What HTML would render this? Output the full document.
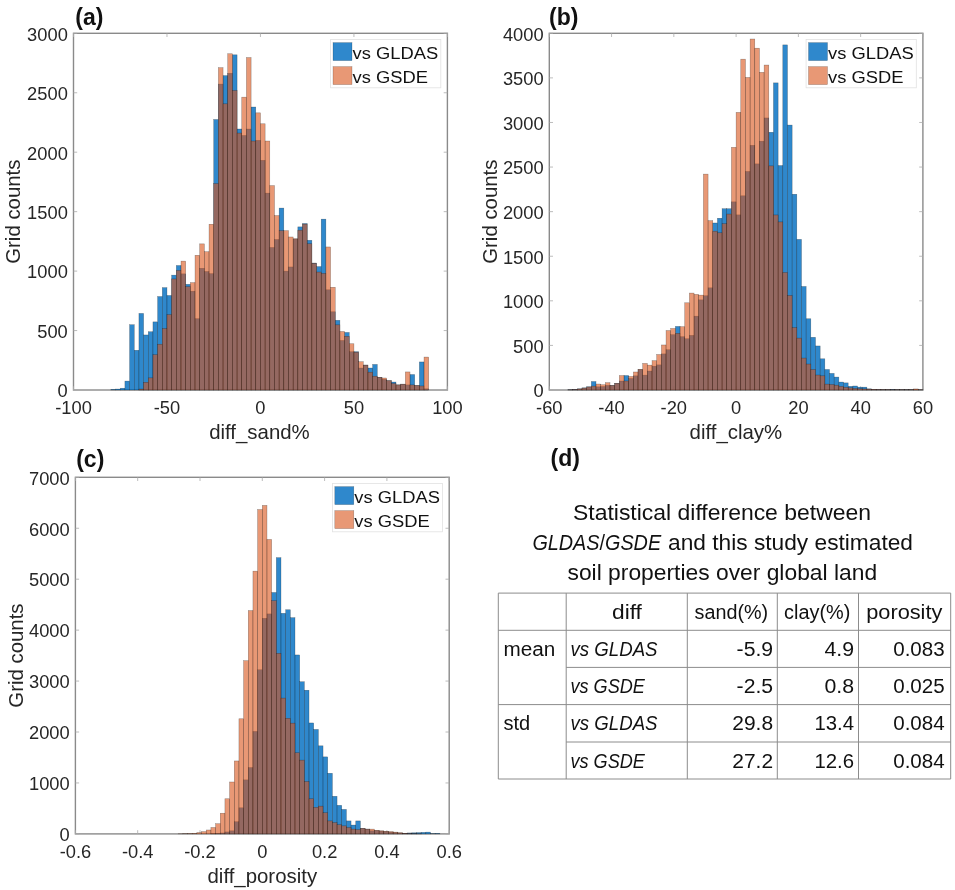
<!DOCTYPE html>
<html lang="en"><head><meta charset="utf-8"><title>Figure: soil property differences</title>
<style>
html,body{margin:0;padding:0;background:#fff}
body{width:955px;height:890px;overflow:hidden}
svg{display:block}
text{font-family:"Liberation Sans",Arial,Helvetica,sans-serif;fill:#262626}
.t{font-size:17.6px}
.xt{text-anchor:middle}
.yt{text-anchor:end}
.l{font-size:20.4px;text-anchor:middle}
.tag{font-size:23px;font-weight:bold;fill:#111}
.lg{font-size:17px;fill:#111}
.ax{fill:none;stroke:#8a8a8a;stroke-width:1.4}
.tk{fill:none;stroke:#ababab;stroke-width:0.8}
.bars rect{stroke:#000;stroke-opacity:0.4;stroke-width:0.5}
.bars.b rect{fill:#016EC1;fill-opacity:0.82}
.bars.o rect{fill:#D95319;fill-opacity:0.6}
.lgbox{fill:#fff;stroke:#e2e2e2;stroke-width:0.8}
.lgb{fill:#016EC1;fill-opacity:0.82;stroke:#000;stroke-opacity:.35;stroke-width:.5}
.lgo{fill:#D95319;fill-opacity:0.6;stroke:#000;stroke-opacity:.35;stroke-width:.5}
.tb{fill:none;stroke:#8c8c8c;stroke-width:1}
.tt{font-size:21.6px;fill:#111}
.tc{font-size:19.5px;fill:#111}
.r{text-anchor:end}
.i{font-style:italic}
</style></head><body>
<svg width="955" height="890" viewBox="0 0 955 890">
<rect width="955" height="890" fill="#fff"/>
<g class="panel" id="panel-a">
<rect class="ax" x="73.5" y="33.3" width="373.9" height="356.7"/>
<path class="tk" d="M73.5 390v-3.7M73.5 33.3v3.7M166.97 390v-3.7M166.97 33.3v3.7M260.45 390v-3.7M260.45 33.3v3.7M353.93 390v-3.7M353.93 33.3v3.7M447.4 390v-3.7M447.4 33.3v3.7M73.5 390h3.7M447.4 390h-3.7M73.5 330.55h3.7M447.4 330.55h-3.7M73.5 271.1h3.7M447.4 271.1h-3.7M73.5 211.65h3.7M447.4 211.65h-3.7M73.5 152.2h3.7M447.4 152.2h-3.7M73.5 92.75h3.7M447.4 92.75h-3.7M73.5 33.3h3.7M447.4 33.3h-3.7"/>
<g class="bars b">
<rect x="110.89" y="389.41" width="4.67" height="0.59"/>
<rect x="115.56" y="389.05" width="4.67" height="0.95"/>
<rect x="120.24" y="388.22" width="4.67" height="1.78"/>
<rect x="124.91" y="381.08" width="4.67" height="8.92"/>
<rect x="129.59" y="324.72" width="4.67" height="65.28"/>
<rect x="134.26" y="350.29" width="4.67" height="39.71"/>
<rect x="138.93" y="313.43" width="4.67" height="76.57"/>
<rect x="143.61" y="334.95" width="4.67" height="55.05"/>
<rect x="148.28" y="331.74" width="4.67" height="58.26"/>
<rect x="152.95" y="321.87" width="4.67" height="68.13"/>
<rect x="157.63" y="296.54" width="4.67" height="93.46"/>
<rect x="162.3" y="287.63" width="4.67" height="102.37"/>
<rect x="166.97" y="295.47" width="4.67" height="94.53"/>
<rect x="171.65" y="275.14" width="4.67" height="114.86"/>
<rect x="176.32" y="265.51" width="4.67" height="124.49"/>
<rect x="181" y="273.83" width="4.67" height="116.17"/>
<rect x="185.67" y="284.3" width="4.67" height="105.7"/>
<rect x="190.34" y="291.19" width="4.67" height="98.81"/>
<rect x="195.02" y="318.66" width="4.67" height="71.34"/>
<rect x="199.69" y="268.25" width="4.67" height="121.75"/>
<rect x="204.37" y="271.46" width="4.67" height="118.54"/>
<rect x="209.04" y="273.6" width="4.67" height="116.4"/>
<rect x="213.71" y="119.5" width="4.67" height="270.5"/>
<rect x="218.39" y="84.07" width="4.67" height="305.93"/>
<rect x="223.06" y="75.63" width="4.67" height="314.37"/>
<rect x="227.73" y="73.25" width="4.67" height="316.75"/>
<rect x="232.41" y="54.82" width="4.67" height="335.18"/>
<rect x="237.08" y="129.01" width="4.67" height="260.99"/>
<rect x="241.75" y="135.44" width="4.67" height="254.56"/>
<rect x="246.43" y="129.01" width="4.67" height="260.99"/>
<rect x="251.1" y="107.02" width="4.67" height="282.98"/>
<rect x="255.78" y="140.31" width="4.67" height="249.69"/>
<rect x="260.45" y="160.29" width="4.67" height="229.71"/>
<rect x="265.12" y="193.1" width="4.67" height="196.9"/>
<rect x="269.8" y="247.44" width="4.67" height="142.56"/>
<rect x="274.47" y="239.47" width="4.67" height="150.53"/>
<rect x="279.14" y="208.08" width="4.67" height="181.92"/>
<rect x="283.82" y="271.1" width="4.67" height="118.9"/>
<rect x="288.49" y="266.94" width="4.67" height="123.06"/>
<rect x="293.17" y="239" width="4.67" height="151"/>
<rect x="297.84" y="226.87" width="4.67" height="163.13"/>
<rect x="302.51" y="223.54" width="4.67" height="166.46"/>
<rect x="307.19" y="240.3" width="4.67" height="149.7"/>
<rect x="311.86" y="263.01" width="4.67" height="126.99"/>
<rect x="316.53" y="266.58" width="4.67" height="123.42"/>
<rect x="321.21" y="219.14" width="4.67" height="170.86"/>
<rect x="325.88" y="289.77" width="4.67" height="100.23"/>
<rect x="330.56" y="311.76" width="4.67" height="78.24"/>
<rect x="335.23" y="320.32" width="4.67" height="69.68"/>
<rect x="339.9" y="340.42" width="4.67" height="49.58"/>
<rect x="344.58" y="332.45" width="4.67" height="57.55"/>
<rect x="349.25" y="351.71" width="4.67" height="38.29"/>
<rect x="353.93" y="351.71" width="4.67" height="38.29"/>
<rect x="358.6" y="368" width="4.67" height="22"/>
<rect x="363.27" y="365.03" width="4.67" height="24.97"/>
<rect x="367.95" y="368" width="4.67" height="22"/>
<rect x="372.62" y="364.44" width="4.67" height="25.56"/>
<rect x="377.29" y="377.28" width="4.67" height="12.72"/>
<rect x="381.97" y="379.3" width="4.67" height="10.7"/>
<rect x="386.64" y="380.73" width="4.67" height="9.27"/>
<rect x="391.31" y="382.03" width="4.67" height="7.97"/>
<rect x="395.99" y="384.89" width="4.67" height="5.11"/>
<rect x="400.66" y="384.17" width="4.67" height="5.83"/>
<rect x="405.34" y="384.89" width="4.67" height="5.11"/>
<rect x="410.01" y="374.54" width="4.67" height="15.46"/>
<rect x="414.68" y="385.48" width="4.67" height="4.52"/>
<rect x="419.36" y="361.94" width="4.67" height="28.06"/>
<rect x="424.03" y="388.81" width="4.67" height="1.19"/>
</g>
<g class="bars o">
<rect x="138.93" y="389.05" width="4.67" height="0.95"/>
<rect x="143.61" y="382.27" width="4.67" height="7.73"/>
<rect x="148.28" y="377.87" width="4.67" height="12.13"/>
<rect x="152.95" y="354.69" width="4.67" height="35.31"/>
<rect x="157.63" y="344.22" width="4.67" height="45.78"/>
<rect x="162.3" y="328.53" width="4.67" height="61.47"/>
<rect x="166.97" y="314.62" width="4.67" height="75.38"/>
<rect x="171.65" y="278.95" width="4.67" height="111.05"/>
<rect x="176.32" y="270.39" width="4.67" height="119.61"/>
<rect x="181" y="261.11" width="4.67" height="128.89"/>
<rect x="185.67" y="286.68" width="4.67" height="103.32"/>
<rect x="190.34" y="282.63" width="4.67" height="107.37"/>
<rect x="195.02" y="255.29" width="4.67" height="134.71"/>
<rect x="199.69" y="243.87" width="4.67" height="146.13"/>
<rect x="204.37" y="251.72" width="4.67" height="138.28"/>
<rect x="209.04" y="224.25" width="4.67" height="165.75"/>
<rect x="213.71" y="183.59" width="4.67" height="206.41"/>
<rect x="218.39" y="67.66" width="4.67" height="322.34"/>
<rect x="223.06" y="103.81" width="4.67" height="286.19"/>
<rect x="227.73" y="53.75" width="4.67" height="336.25"/>
<rect x="232.41" y="90.49" width="4.67" height="299.51"/>
<rect x="237.08" y="133.06" width="4.67" height="256.94"/>
<rect x="241.75" y="97.15" width="4.67" height="292.85"/>
<rect x="246.43" y="57.56" width="4.67" height="332.44"/>
<rect x="251.1" y="141.02" width="4.67" height="248.98"/>
<rect x="255.78" y="112.84" width="4.67" height="277.16"/>
<rect x="260.45" y="123.78" width="4.67" height="266.22"/>
<rect x="265.12" y="141.02" width="4.67" height="248.98"/>
<rect x="269.8" y="185.61" width="4.67" height="204.39"/>
<rect x="274.47" y="215.57" width="4.67" height="174.43"/>
<rect x="279.14" y="230.67" width="4.67" height="159.33"/>
<rect x="283.82" y="230.67" width="4.67" height="159.33"/>
<rect x="288.49" y="236.98" width="4.67" height="153.02"/>
<rect x="293.17" y="238.76" width="4.67" height="151.24"/>
<rect x="297.84" y="230.2" width="4.67" height="159.8"/>
<rect x="302.51" y="224.13" width="4.67" height="165.87"/>
<rect x="307.19" y="243.75" width="4.67" height="146.25"/>
<rect x="311.86" y="263.25" width="4.67" height="126.75"/>
<rect x="316.53" y="272.05" width="4.67" height="117.95"/>
<rect x="321.21" y="273.36" width="4.67" height="116.64"/>
<rect x="325.88" y="246.96" width="4.67" height="143.04"/>
<rect x="330.56" y="287.27" width="4.67" height="102.73"/>
<rect x="335.23" y="324.84" width="4.67" height="65.16"/>
<rect x="339.9" y="331.5" width="4.67" height="58.5"/>
<rect x="344.58" y="336.26" width="4.67" height="53.74"/>
<rect x="349.25" y="343.75" width="4.67" height="46.25"/>
<rect x="353.93" y="352.19" width="4.67" height="37.81"/>
<rect x="358.6" y="361.7" width="4.67" height="28.3"/>
<rect x="363.27" y="365.15" width="4.67" height="24.85"/>
<rect x="367.95" y="372.17" width="4.67" height="17.83"/>
<rect x="372.62" y="376.21" width="4.67" height="13.79"/>
<rect x="377.29" y="377.28" width="4.67" height="12.72"/>
<rect x="381.97" y="377.99" width="4.67" height="12.01"/>
<rect x="386.64" y="380.61" width="4.67" height="9.39"/>
<rect x="391.31" y="383.46" width="4.67" height="6.54"/>
<rect x="395.99" y="384.89" width="4.67" height="5.11"/>
<rect x="400.66" y="384.17" width="4.67" height="5.83"/>
<rect x="405.34" y="371.93" width="4.67" height="18.07"/>
<rect x="410.01" y="384.89" width="4.67" height="5.11"/>
<rect x="414.68" y="385.48" width="4.67" height="4.52"/>
<rect x="419.36" y="385.96" width="4.67" height="4.04"/>
<rect x="424.03" y="357.06" width="4.67" height="32.94"/>
</g>
<text class="t xt" transform="translate(73.5 414.1) scale(1.04 1)">-100</text>
<text class="t xt" transform="translate(166.97 414.1) scale(1.04 1)">-50</text>
<text class="t xt" transform="translate(260.45 414.1) scale(1.04 1)">0</text>
<text class="t xt" transform="translate(353.93 414.1) scale(1.04 1)">50</text>
<text class="t xt" transform="translate(447.4 414.1) scale(1.04 1)">100</text>
<text class="t yt" transform="translate(67.8 397.3) scale(1.04 1)">0</text>
<text class="t yt" transform="translate(67.8 337.85) scale(1.04 1)">500</text>
<text class="t yt" transform="translate(67.8 278.4) scale(1.04 1)">1000</text>
<text class="t yt" transform="translate(67.8 218.95) scale(1.04 1)">1500</text>
<text class="t yt" transform="translate(67.8 159.5) scale(1.04 1)">2000</text>
<text class="t yt" transform="translate(67.8 100.05) scale(1.04 1)">2500</text>
<text class="t yt" transform="translate(67.8 40.6) scale(1.04 1)">3000</text>
<text class="l xl" transform="translate(259.45 438.7) scale(1.0 1)">diff_sand%</text>
<text class="l yl" transform="translate(20.4 211.65) scale(1.035 1) rotate(-90)">Grid counts</text>
<text class="tag" x="75.3" y="25.2">(a)</text>
<g class="legend">
<rect class="lgbox" x="330.6" y="39.5" width="110.2" height="48.3"/>
<rect class="lgb" x="333" y="42.6" width="19" height="18"/>
<rect class="lgo" x="333" y="66.6" width="19" height="18"/>
<text class="lg" transform="translate(352.5 59.1) scale(1.08 1)">vs GLDAS</text>
<text class="lg" transform="translate(352.5 83.1) scale(1.08 1)">vs GSDE</text>
</g>
</g>
<g class="panel" id="panel-b">
<rect class="ax" x="549.3" y="33.3" width="373.6" height="356.7"/>
<path class="tk" d="M549.3 390v-3.7M549.3 33.3v3.7M611.57 390v-3.7M611.57 33.3v3.7M673.83 390v-3.7M673.83 33.3v3.7M736.1 390v-3.7M736.1 33.3v3.7M798.37 390v-3.7M798.37 33.3v3.7M860.63 390v-3.7M860.63 33.3v3.7M922.9 390v-3.7M922.9 33.3v3.7M549.3 390h3.7M922.9 390h-3.7M549.3 345.41h3.7M922.9 345.41h-3.7M549.3 300.82h3.7M922.9 300.82h-3.7M549.3 256.24h3.7M922.9 256.24h-3.7M549.3 211.65h3.7M922.9 211.65h-3.7M549.3 167.06h3.7M922.9 167.06h-3.7M549.3 122.48h3.7M922.9 122.48h-3.7M549.3 77.89h3.7M922.9 77.89h-3.7M549.3 33.3h3.7M922.9 33.3h-3.7"/>
<g class="bars b">
<rect x="567.98" y="389.73" width="4.67" height="0.27"/>
<rect x="572.65" y="389.29" width="4.67" height="0.71"/>
<rect x="577.32" y="388.84" width="4.67" height="1.16"/>
<rect x="581.99" y="387.86" width="4.67" height="2.14"/>
<rect x="586.66" y="386.79" width="4.67" height="3.21"/>
<rect x="591.33" y="381.53" width="4.67" height="8.47"/>
<rect x="596" y="386.79" width="4.67" height="3.21"/>
<rect x="600.67" y="386.52" width="4.67" height="3.48"/>
<rect x="605.34" y="385.36" width="4.67" height="4.64"/>
<rect x="610.01" y="385.36" width="4.67" height="4.64"/>
<rect x="614.68" y="383.31" width="4.67" height="6.69"/>
<rect x="619.35" y="380.99" width="4.67" height="9.01"/>
<rect x="624.02" y="375.55" width="4.67" height="14.45"/>
<rect x="628.69" y="378.5" width="4.67" height="11.5"/>
<rect x="633.36" y="375.82" width="4.67" height="14.18"/>
<rect x="638.03" y="369.58" width="4.67" height="20.42"/>
<rect x="642.7" y="375.11" width="4.67" height="14.89"/>
<rect x="647.37" y="371.01" width="4.67" height="18.99"/>
<rect x="652.04" y="366.19" width="4.67" height="23.81"/>
<rect x="656.71" y="364.85" width="4.67" height="25.15"/>
<rect x="661.38" y="353.88" width="4.67" height="36.12"/>
<rect x="666.05" y="349.69" width="4.67" height="40.31"/>
<rect x="670.72" y="334.62" width="4.67" height="55.38"/>
<rect x="675.39" y="326.42" width="4.67" height="63.58"/>
<rect x="680.06" y="336.67" width="4.67" height="53.33"/>
<rect x="684.73" y="338.72" width="4.67" height="51.28"/>
<rect x="689.4" y="335.34" width="4.67" height="54.66"/>
<rect x="694.07" y="316.16" width="4.67" height="73.84"/>
<rect x="698.74" y="299.84" width="4.67" height="90.16"/>
<rect x="703.41" y="295.74" width="4.67" height="94.26"/>
<rect x="708.08" y="287.81" width="4.67" height="102.19"/>
<rect x="712.75" y="222.98" width="4.67" height="167.02"/>
<rect x="717.42" y="218.25" width="4.67" height="171.75"/>
<rect x="722.09" y="208.71" width="4.67" height="181.29"/>
<rect x="726.76" y="208.71" width="4.67" height="181.29"/>
<rect x="731.43" y="201.84" width="4.67" height="188.16"/>
<rect x="736.1" y="214.86" width="4.67" height="175.14"/>
<rect x="740.77" y="195.78" width="4.67" height="194.22"/>
<rect x="745.44" y="171.43" width="4.67" height="218.57"/>
<rect x="750.11" y="145.3" width="4.67" height="244.7"/>
<rect x="754.78" y="163.85" width="4.67" height="226.15"/>
<rect x="759.45" y="141.2" width="4.67" height="248.8"/>
<rect x="764.12" y="117.93" width="4.67" height="272.07"/>
<rect x="768.79" y="132.28" width="4.67" height="257.72"/>
<rect x="773.46" y="82.88" width="4.67" height="307.12"/>
<rect x="778.13" y="165.55" width="4.67" height="224.45"/>
<rect x="782.8" y="44.89" width="4.67" height="345.11"/>
<rect x="787.47" y="125.06" width="4.67" height="264.94"/>
<rect x="792.14" y="194.26" width="4.67" height="195.74"/>
<rect x="796.81" y="239.38" width="4.67" height="150.62"/>
<rect x="801.48" y="286.47" width="4.67" height="103.53"/>
<rect x="806.15" y="318.75" width="4.67" height="71.25"/>
<rect x="810.82" y="337.3" width="4.67" height="52.7"/>
<rect x="815.49" y="345.95" width="4.67" height="44.05"/>
<rect x="820.16" y="358.79" width="4.67" height="31.21"/>
<rect x="824.83" y="369.49" width="4.67" height="20.51"/>
<rect x="829.5" y="373.41" width="4.67" height="16.59"/>
<rect x="834.17" y="377.07" width="4.67" height="12.93"/>
<rect x="838.84" y="382.06" width="4.67" height="7.94"/>
<rect x="843.51" y="382.87" width="4.67" height="7.13"/>
<rect x="848.18" y="386.34" width="4.67" height="3.66"/>
<rect x="852.85" y="385.99" width="4.67" height="4.01"/>
<rect x="857.52" y="387.15" width="4.67" height="2.85"/>
<rect x="862.19" y="387.15" width="4.67" height="2.85"/>
<rect x="866.86" y="388.84" width="4.67" height="1.16"/>
<rect x="871.53" y="389.29" width="4.67" height="0.71"/>
<rect x="876.2" y="389.46" width="4.67" height="0.54"/>
<rect x="880.87" y="389.55" width="4.67" height="0.45"/>
<rect x="885.54" y="389.55" width="4.67" height="0.45"/>
<rect x="890.21" y="389.29" width="4.67" height="0.71"/>
<rect x="894.88" y="389.64" width="4.67" height="0.36"/>
<rect x="899.55" y="389.64" width="4.67" height="0.36"/>
<rect x="904.22" y="389.73" width="4.67" height="0.27"/>
<rect x="908.89" y="389.73" width="4.67" height="0.27"/>
<rect x="913.56" y="389.73" width="4.67" height="0.27"/>
<rect x="918.23" y="389.82" width="4.67" height="0.18"/>
</g>
<g class="bars o">
<rect x="567.98" y="389.82" width="4.67" height="0.18"/>
<rect x="572.65" y="389.46" width="4.67" height="0.54"/>
<rect x="577.32" y="388.93" width="4.67" height="1.07"/>
<rect x="581.99" y="388.04" width="4.67" height="1.96"/>
<rect x="586.66" y="386.97" width="4.67" height="3.03"/>
<rect x="591.33" y="386.08" width="4.67" height="3.92"/>
<rect x="596" y="384.03" width="4.67" height="5.97"/>
<rect x="600.67" y="384.74" width="4.67" height="5.26"/>
<rect x="605.34" y="382.69" width="4.67" height="7.31"/>
<rect x="610.01" y="385.36" width="4.67" height="4.64"/>
<rect x="614.68" y="383.31" width="4.67" height="6.69"/>
<rect x="619.35" y="375.55" width="4.67" height="14.45"/>
<rect x="624.02" y="380.99" width="4.67" height="9.01"/>
<rect x="628.69" y="376.45" width="4.67" height="13.55"/>
<rect x="633.36" y="371.99" width="4.67" height="18.01"/>
<rect x="638.03" y="369.31" width="4.67" height="20.69"/>
<rect x="642.7" y="363.43" width="4.67" height="26.57"/>
<rect x="647.37" y="365.12" width="4.67" height="24.88"/>
<rect x="652.04" y="360.66" width="4.67" height="29.34"/>
<rect x="656.71" y="354.51" width="4.67" height="35.49"/>
<rect x="661.38" y="344.97" width="4.67" height="45.03"/>
<rect x="666.05" y="330.52" width="4.67" height="59.48"/>
<rect x="670.72" y="328.47" width="4.67" height="61.53"/>
<rect x="675.39" y="333.28" width="4.67" height="56.72"/>
<rect x="680.06" y="326.69" width="4.67" height="63.31"/>
<rect x="684.73" y="302.79" width="4.67" height="87.21"/>
<rect x="689.4" y="293.07" width="4.67" height="96.93"/>
<rect x="694.07" y="294.4" width="4.67" height="95.6"/>
<rect x="698.74" y="295.12" width="4.67" height="94.88"/>
<rect x="703.41" y="174.11" width="4.67" height="215.89"/>
<rect x="708.08" y="220.66" width="4.67" height="169.34"/>
<rect x="712.75" y="231.18" width="4.67" height="158.82"/>
<rect x="717.42" y="232.78" width="4.67" height="157.22"/>
<rect x="722.09" y="223.69" width="4.67" height="166.31"/>
<rect x="726.76" y="214.06" width="4.67" height="175.94"/>
<rect x="731.43" y="147.35" width="4.67" height="242.65"/>
<rect x="736.1" y="112.4" width="4.67" height="277.6"/>
<rect x="740.77" y="59.16" width="4.67" height="330.84"/>
<rect x="745.44" y="77.44" width="4.67" height="312.56"/>
<rect x="750.11" y="39.01" width="4.67" height="350.99"/>
<rect x="754.78" y="48.19" width="4.67" height="341.81"/>
<rect x="759.45" y="72.36" width="4.67" height="317.64"/>
<rect x="764.12" y="65.05" width="4.67" height="324.95"/>
<rect x="768.79" y="165.9" width="4.67" height="224.1"/>
<rect x="773.46" y="214.95" width="4.67" height="175.05"/>
<rect x="778.13" y="221.91" width="4.67" height="168.09"/>
<rect x="782.8" y="272.47" width="4.67" height="117.53"/>
<rect x="787.47" y="295.47" width="4.67" height="94.53"/>
<rect x="792.14" y="327.58" width="4.67" height="62.42"/>
<rect x="796.81" y="338.1" width="4.67" height="51.9"/>
<rect x="801.48" y="358.08" width="4.67" height="31.92"/>
<rect x="806.15" y="364.05" width="4.67" height="25.95"/>
<rect x="810.82" y="369.49" width="4.67" height="20.51"/>
<rect x="815.49" y="375.02" width="4.67" height="14.98"/>
<rect x="820.16" y="375.82" width="4.67" height="14.18"/>
<rect x="824.83" y="384.11" width="4.67" height="5.89"/>
<rect x="829.5" y="384.47" width="4.67" height="5.53"/>
<rect x="834.17" y="385.18" width="4.67" height="4.82"/>
<rect x="838.84" y="386.34" width="4.67" height="3.66"/>
<rect x="843.51" y="387.24" width="4.67" height="2.76"/>
<rect x="848.18" y="387.86" width="4.67" height="2.14"/>
<rect x="852.85" y="388.39" width="4.67" height="1.61"/>
<rect x="857.52" y="388.75" width="4.67" height="1.25"/>
<rect x="862.19" y="388.93" width="4.67" height="1.07"/>
<rect x="866.86" y="389.11" width="4.67" height="0.89"/>
<rect x="871.53" y="389.29" width="4.67" height="0.71"/>
<rect x="876.2" y="389.46" width="4.67" height="0.54"/>
<rect x="880.87" y="389.55" width="4.67" height="0.45"/>
<rect x="885.54" y="389.55" width="4.67" height="0.45"/>
<rect x="890.21" y="389.64" width="4.67" height="0.36"/>
<rect x="894.88" y="389.64" width="4.67" height="0.36"/>
<rect x="899.55" y="389.64" width="4.67" height="0.36"/>
<rect x="904.22" y="389.73" width="4.67" height="0.27"/>
<rect x="908.89" y="389.73" width="4.67" height="0.27"/>
<rect x="913.56" y="388.93" width="4.67" height="1.07"/>
<rect x="918.23" y="389.73" width="4.67" height="0.27"/>
</g>
<text class="t xt" transform="translate(549.3 414.1) scale(1.04 1)">-60</text>
<text class="t xt" transform="translate(611.57 414.1) scale(1.04 1)">-40</text>
<text class="t xt" transform="translate(673.83 414.1) scale(1.04 1)">-20</text>
<text class="t xt" transform="translate(736.1 414.1) scale(1.04 1)">0</text>
<text class="t xt" transform="translate(798.37 414.1) scale(1.04 1)">20</text>
<text class="t xt" transform="translate(860.63 414.1) scale(1.04 1)">40</text>
<text class="t xt" transform="translate(922.9 414.1) scale(1.04 1)">60</text>
<text class="t yt" transform="translate(543.6 397.3) scale(1.04 1)">0</text>
<text class="t yt" transform="translate(543.6 352.71) scale(1.04 1)">500</text>
<text class="t yt" transform="translate(543.6 308.12) scale(1.04 1)">1000</text>
<text class="t yt" transform="translate(543.6 263.54) scale(1.04 1)">1500</text>
<text class="t yt" transform="translate(543.6 218.95) scale(1.04 1)">2000</text>
<text class="t yt" transform="translate(543.6 174.36) scale(1.04 1)">2500</text>
<text class="t yt" transform="translate(543.6 129.78) scale(1.04 1)">3000</text>
<text class="t yt" transform="translate(543.6 85.19) scale(1.04 1)">3500</text>
<text class="t yt" transform="translate(543.6 40.6) scale(1.04 1)">4000</text>
<text class="l xl" transform="translate(735.9 438.7) scale(1.0 1)">diff_clay%</text>
<text class="l yl" transform="translate(496.8 211.65) scale(1.035 1) rotate(-90)">Grid counts</text>
<text class="tag" x="549.1" y="25.2">(b)</text>
<g class="legend">
<rect class="lgbox" x="806.1" y="39.5" width="110.2" height="48.3"/>
<rect class="lgb" x="808.5" y="42.6" width="19" height="18"/>
<rect class="lgo" x="808.5" y="66.6" width="19" height="18"/>
<text class="lg" transform="translate(828 59.1) scale(1.08 1)">vs GLDAS</text>
<text class="lg" transform="translate(828 83.1) scale(1.08 1)">vs GSDE</text>
</g>
</g>
<g class="panel" id="panel-c">
<rect class="ax" x="75.4" y="477.3" width="373.8" height="356.6"/>
<path class="tk" d="M75.4 833.9v-3.7M75.4 477.3v3.7M137.7 833.9v-3.7M137.7 477.3v3.7M200 833.9v-3.7M200 477.3v3.7M262.3 833.9v-3.7M262.3 477.3v3.7M324.6 833.9v-3.7M324.6 477.3v3.7M386.9 833.9v-3.7M386.9 477.3v3.7M449.2 833.9v-3.7M449.2 477.3v3.7M75.4 833.9h3.7M449.2 833.9h-3.7M75.4 782.96h3.7M449.2 782.96h-3.7M75.4 732.01h3.7M449.2 732.01h-3.7M75.4 681.07h3.7M449.2 681.07h-3.7M75.4 630.13h3.7M449.2 630.13h-3.7M75.4 579.19h3.7M449.2 579.19h-3.7M75.4 528.24h3.7M449.2 528.24h-3.7M75.4 477.3h3.7M449.2 477.3h-3.7"/>
<g class="bars b">
<rect x="210.9" y="833.65" width="4.67" height="0.25"/>
<rect x="215.57" y="833.24" width="4.67" height="0.66"/>
<rect x="220.25" y="832.93" width="4.67" height="0.97"/>
<rect x="224.92" y="831.91" width="4.67" height="1.99"/>
<rect x="229.59" y="830.79" width="4.67" height="3.11"/>
<rect x="234.27" y="821.72" width="4.67" height="12.18"/>
<rect x="238.94" y="807.77" width="4.67" height="26.13"/>
<rect x="243.61" y="779.85" width="4.67" height="54.05"/>
<rect x="248.28" y="767.52" width="4.67" height="66.38"/>
<rect x="252.95" y="731.4" width="4.67" height="102.5"/>
<rect x="257.63" y="669.76" width="4.67" height="164.14"/>
<rect x="262.3" y="618.31" width="4.67" height="215.59"/>
<rect x="266.97" y="613.88" width="4.67" height="220.02"/>
<rect x="271.64" y="592.48" width="4.67" height="241.42"/>
<rect x="276.32" y="557.64" width="4.67" height="276.26"/>
<rect x="280.99" y="613.32" width="4.67" height="220.58"/>
<rect x="285.66" y="609.75" width="4.67" height="224.15"/>
<rect x="290.33" y="617.65" width="4.67" height="216.25"/>
<rect x="295.01" y="654.94" width="4.67" height="178.96"/>
<rect x="299.68" y="681.73" width="4.67" height="152.17"/>
<rect x="304.35" y="690.24" width="4.67" height="143.66"/>
<rect x="309.02" y="722.95" width="4.67" height="110.95"/>
<rect x="313.7" y="729.42" width="4.67" height="104.48"/>
<rect x="318.37" y="745.82" width="4.67" height="88.08"/>
<rect x="323.04" y="756.87" width="4.67" height="77.03"/>
<rect x="327.71" y="773.28" width="4.67" height="60.62"/>
<rect x="332.39" y="796.3" width="4.67" height="37.6"/>
<rect x="337.06" y="805.32" width="4.67" height="28.58"/>
<rect x="341.73" y="809.4" width="4.67" height="24.5"/>
<rect x="346.4" y="820.91" width="4.67" height="12.99"/>
<rect x="351.08" y="825.04" width="4.67" height="8.86"/>
<rect x="355.75" y="820.91" width="4.67" height="12.99"/>
<rect x="360.42" y="828.3" width="4.67" height="5.6"/>
<rect x="365.1" y="829.11" width="4.67" height="4.79"/>
<rect x="369.77" y="830.79" width="4.67" height="3.11"/>
<rect x="374.44" y="830.59" width="4.67" height="3.31"/>
<rect x="379.11" y="831.1" width="4.67" height="2.8"/>
<rect x="383.78" y="831.61" width="4.67" height="2.29"/>
<rect x="388.46" y="832.12" width="4.67" height="1.78"/>
<rect x="393.13" y="832.63" width="4.67" height="1.27"/>
<rect x="397.8" y="832.98" width="4.67" height="0.92"/>
<rect x="402.47" y="833.24" width="4.67" height="0.66"/>
<rect x="407.15" y="832.93" width="4.67" height="0.97"/>
<rect x="411.82" y="832.78" width="4.67" height="1.12"/>
<rect x="416.49" y="832.58" width="4.67" height="1.32"/>
<rect x="421.16" y="832.37" width="4.67" height="1.53"/>
<rect x="425.84" y="832.12" width="4.67" height="1.78"/>
<rect x="430.51" y="833.59" width="4.67" height="0.31"/>
<rect x="435.18" y="833.39" width="4.67" height="0.51"/>
</g>
<g class="bars o">
<rect x="178.19" y="833.75" width="4.67" height="0.15"/>
<rect x="182.87" y="833.65" width="4.67" height="0.25"/>
<rect x="187.54" y="833.49" width="4.67" height="0.41"/>
<rect x="192.21" y="833.24" width="4.67" height="0.66"/>
<rect x="196.88" y="832.58" width="4.67" height="1.32"/>
<rect x="201.56" y="831.61" width="4.67" height="2.29"/>
<rect x="206.23" y="829.98" width="4.67" height="3.92"/>
<rect x="210.9" y="827.48" width="4.67" height="6.42"/>
<rect x="215.57" y="823.71" width="4.67" height="10.19"/>
<rect x="220.25" y="813.22" width="4.67" height="20.68"/>
<rect x="224.92" y="798.75" width="4.67" height="35.15"/>
<rect x="229.59" y="781.99" width="4.67" height="51.91"/>
<rect x="234.27" y="760.95" width="4.67" height="72.95"/>
<rect x="238.94" y="718.77" width="4.67" height="115.13"/>
<rect x="243.61" y="660.69" width="4.67" height="173.21"/>
<rect x="248.28" y="610.57" width="4.67" height="223.33"/>
<rect x="252.95" y="571.14" width="4.67" height="262.76"/>
<rect x="257.63" y="509.55" width="4.67" height="324.35"/>
<rect x="262.3" y="505.42" width="4.67" height="328.48"/>
<rect x="266.97" y="539.45" width="4.67" height="294.45"/>
<rect x="271.64" y="600.73" width="4.67" height="233.17"/>
<rect x="276.32" y="653.31" width="4.67" height="180.59"/>
<rect x="280.99" y="698.09" width="4.67" height="135.81"/>
<rect x="285.66" y="718.26" width="4.67" height="115.64"/>
<rect x="290.33" y="723.15" width="4.67" height="110.75"/>
<rect x="295.01" y="752.75" width="4.67" height="81.15"/>
<rect x="299.68" y="760.13" width="4.67" height="73.77"/>
<rect x="304.35" y="781.48" width="4.67" height="52.42"/>
<rect x="309.02" y="798.75" width="4.67" height="35.15"/>
<rect x="313.7" y="807.31" width="4.67" height="26.59"/>
<rect x="318.37" y="806.14" width="4.67" height="27.76"/>
<rect x="323.04" y="812.71" width="4.67" height="21.19"/>
<rect x="327.71" y="820.91" width="4.67" height="12.99"/>
<rect x="332.39" y="822.54" width="4.67" height="11.36"/>
<rect x="337.06" y="824.68" width="4.67" height="9.22"/>
<rect x="341.73" y="825.85" width="4.67" height="8.05"/>
<rect x="346.4" y="827.48" width="4.67" height="6.42"/>
<rect x="351.08" y="829.11" width="4.67" height="4.79"/>
<rect x="355.75" y="829.62" width="4.67" height="4.28"/>
<rect x="360.42" y="828.3" width="4.67" height="5.6"/>
<rect x="365.1" y="829.11" width="4.67" height="4.79"/>
<rect x="369.77" y="829.11" width="4.67" height="4.79"/>
<rect x="374.44" y="830.28" width="4.67" height="3.62"/>
<rect x="379.11" y="830.79" width="4.67" height="3.11"/>
<rect x="383.78" y="831.25" width="4.67" height="2.65"/>
<rect x="388.46" y="831.61" width="4.67" height="2.29"/>
<rect x="393.13" y="832.12" width="4.67" height="1.78"/>
<rect x="397.8" y="832.73" width="4.67" height="1.17"/>
<rect x="402.47" y="833.24" width="4.67" height="0.66"/>
<rect x="407.15" y="833.49" width="4.67" height="0.41"/>
<rect x="411.82" y="833.65" width="4.67" height="0.25"/>
<rect x="416.49" y="833.75" width="4.67" height="0.15"/>
</g>
<text class="t xt" transform="translate(75.4 858) scale(1.04 1)">-0.6</text>
<text class="t xt" transform="translate(137.7 858) scale(1.04 1)">-0.4</text>
<text class="t xt" transform="translate(200 858) scale(1.04 1)">-0.2</text>
<text class="t xt" transform="translate(262.3 858) scale(1.04 1)">0</text>
<text class="t xt" transform="translate(324.6 858) scale(1.04 1)">0.2</text>
<text class="t xt" transform="translate(386.9 858) scale(1.04 1)">0.4</text>
<text class="t xt" transform="translate(449.2 858) scale(1.04 1)">0.6</text>
<text class="t yt" transform="translate(69.7 841.2) scale(1.04 1)">0</text>
<text class="t yt" transform="translate(69.7 790.26) scale(1.04 1)">1000</text>
<text class="t yt" transform="translate(69.7 739.31) scale(1.04 1)">2000</text>
<text class="t yt" transform="translate(69.7 688.37) scale(1.04 1)">3000</text>
<text class="t yt" transform="translate(69.7 637.43) scale(1.04 1)">4000</text>
<text class="t yt" transform="translate(69.7 586.49) scale(1.04 1)">5000</text>
<text class="t yt" transform="translate(69.7 535.54) scale(1.04 1)">6000</text>
<text class="t yt" transform="translate(69.7 484.6) scale(1.04 1)">7000</text>
<text class="l xl" transform="translate(262.3 882.6) scale(1.0 1)">diff_porosity</text>
<text class="l yl" transform="translate(22.5 655.6) scale(1.035 1) rotate(-90)">Grid counts</text>
<text class="tag" x="76.2" y="466.5">(c)</text>
<g class="legend">
<rect class="lgbox" x="332.4" y="483.5" width="110.2" height="48.3"/>
<rect class="lgb" x="334.8" y="486.6" width="19" height="18"/>
<rect class="lgo" x="334.8" y="510.6" width="19" height="18"/>
<text class="lg" transform="translate(354.3 503.1) scale(1.08 1)">vs GLDAS</text>
<text class="lg" transform="translate(354.3 527.1) scale(1.08 1)">vs GSDE</text>
</g>
</g>
<g id="panel-d">
<text class="tag" x="550.6" y="465.6">(d)</text>
<text class="tt" x="573" y="520.1" textLength="298" lengthAdjust="spacingAndGlyphs">Statistical difference between</text>
<text class="tt" x="532.4" y="549.8" textLength="128.7" lengthAdjust="spacingAndGlyphs"><tspan class="i">GLDAS</tspan>/<tspan class="i">GSDE</tspan></text>
<text class="tt" x="668" y="549.8" textLength="245" lengthAdjust="spacingAndGlyphs">and this study estimated</text>
<text class="tt" x="567.5" y="579.7" textLength="309.6" lengthAdjust="spacingAndGlyphs">soil properties over global land</text>
<path class="tb" d="M498.3 593.1H950.7V779.0H498.3ZM566.2 593.1V779.0M687.3 593.1V779.0M777.3 593.1V779.0M858.5 593.1V779.0M498.3 630.3H950.7M566.2 667.4H950.7M498.3 704.6H950.7M566.2 742.0H950.7"/>
<text class="tc" x="612" y="619.3" textLength="29.9" lengthAdjust="spacingAndGlyphs">diff</text>
<text class="tc" x="694.6" y="619.3" textLength="73.6" lengthAdjust="spacingAndGlyphs">sand(%)</text>
<text class="tc" x="784.1" y="619.3" textLength="66.2" lengthAdjust="spacingAndGlyphs">clay(%)</text>
<text class="tc" x="866.2" y="619.3" textLength="76.2" lengthAdjust="spacingAndGlyphs">porosity</text>
<text class="tc" x="503.4" y="655.8" textLength="51.8" lengthAdjust="spacingAndGlyphs">mean</text>
<text class="tc" x="503.4" y="730.3" textLength="26.7" lengthAdjust="spacingAndGlyphs">std</text>
<text class="tc i" x="570.5" y="655.8" textLength="87" lengthAdjust="spacingAndGlyphs">vs GLDAS</text>
<text class="tc" x="736.6" y="655.8" textLength="36.5" lengthAdjust="spacingAndGlyphs">-5.9</text>
<text class="tc" x="824.4" y="655.8" textLength="29.6" lengthAdjust="spacingAndGlyphs">4.9</text>
<text class="tc" x="893.2" y="655.8" textLength="51.5" lengthAdjust="spacingAndGlyphs">0.083</text>
<text class="tc i" x="570.5" y="693" textLength="74.4" lengthAdjust="spacingAndGlyphs">vs GSDE</text>
<text class="tc" x="736.6" y="693" textLength="36.5" lengthAdjust="spacingAndGlyphs">-2.5</text>
<text class="tc" x="824.4" y="693" textLength="29.6" lengthAdjust="spacingAndGlyphs">0.8</text>
<text class="tc" x="893.2" y="693" textLength="51.5" lengthAdjust="spacingAndGlyphs">0.025</text>
<text class="tc i" x="570.5" y="730.3" textLength="87" lengthAdjust="spacingAndGlyphs">vs GLDAS</text>
<text class="tc" x="732.3" y="730.3" textLength="40.8" lengthAdjust="spacingAndGlyphs">29.8</text>
<text class="tc" x="814.4" y="730.3" textLength="39.6" lengthAdjust="spacingAndGlyphs">13.4</text>
<text class="tc" x="893.2" y="730.3" textLength="51.5" lengthAdjust="spacingAndGlyphs">0.084</text>
<text class="tc i" x="570.5" y="767.8" textLength="74.4" lengthAdjust="spacingAndGlyphs">vs GSDE</text>
<text class="tc" x="732.3" y="767.8" textLength="40.8" lengthAdjust="spacingAndGlyphs">27.2</text>
<text class="tc" x="814.4" y="767.8" textLength="39.6" lengthAdjust="spacingAndGlyphs">12.6</text>
<text class="tc" x="893.2" y="767.8" textLength="51.5" lengthAdjust="spacingAndGlyphs">0.084</text>
</g>
</svg>
</body></html>
